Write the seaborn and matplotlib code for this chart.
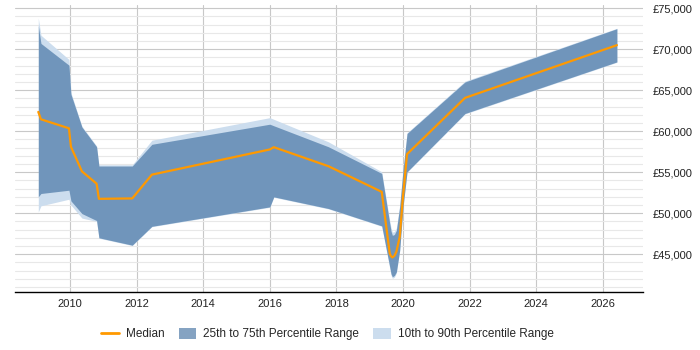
import numpy as np
import pandas as pd
import matplotlib
matplotlib.use('Agg')
import matplotlib.pyplot as plt
import matplotlib.ticker as mticker
from matplotlib.patches import Patch
from matplotlib.lines import Line2D
import seaborn as sns

# values (decimal years, GBP)
years = [2009.05, 2009.13, 2009.97, 2010.03, 2010.36, 2010.8, 2010.87, 2011.87,
         2012.46, 2016.0, 2016.12, 2017.76, 2019.36, 2019.6, 2019.64, 2019.68,
         2019.74, 2019.8, 2019.9, 2020.0, 2020.12, 2021.86, 2026.42]
median = [62350, 61450, 60350, 58100, 55100, 53600, 51750, 51800,
          54700, 57770, 58050, 55730, 52600, 45100, 44750, 44600,
          44800, 45300, 47100, 52100, 57200, 64060, 70490]
p75 = [72900, 70700, 68050, 64500, 60500, 58100, 55750, 55750,
       58400, 60850, 60660, 58100, 54850, 48750, 47800, 47300,
       47400, 47900, 50800, 55300, 59720, 66000, 72500]
p90 = [73800, 71700, 68750, 64700, 60600, 58200, 55900, 55900,
       58900, 61650, 61450, 58700, 55050, 49100, 48200, 47700,
       47750, 48200, 51000, 55400, 59800, 66100, 72550]
p25 = [52000, 52400, 52800, 51500, 49950, 49100, 47000, 46100,
       48400, 50770, 51990, 50570, 48450, 43450, 42600, 42250,
       42400, 42850, 45500, 50800, 55040, 62160, 68450]
p10 = [50150, 50900, 51700, 51000, 49400, 49000, 46950, 46050,
       48350, 50720, 51940, 50520, 48400, 43300, 42450, 42050,
       42200, 42700, 45400, 50700, 54990, 62100, 68400]

df = pd.DataFrame({'year': years, 'median': median,
                   'p10': p10, 'p25': p25, 'p75': p75, 'p90': p90})

sns.set_style('white')
plt.rcParams['font.family'] = ['Liberation Sans', 'DejaVu Sans']

light = '#ccddee'
dark = (51/255, 102/255, 153/255, 0.6)
orange = '#ff9900'

fig = plt.figure(figsize=(7, 3.5), dpi=100)
ax = fig.add_axes([0.0214, 0.166, 0.897, 0.82])

ax.fill_between(df['year'], df['p10'], df['p90'], color=light, lw=0, zorder=2)
ax.fill_between(df['year'], df['p25'], df['p75'], color=dark, lw=0, zorder=3)
sns.lineplot(data=df, x='year', y='median', color=orange, lw=1.6, ax=ax, zorder=4)

ax.set_xlim(2008.35, 2027.2)
ax.set_ylim(40400, 75400)
ax.xaxis.set_major_locator(mticker.MultipleLocator(2))
ax.xaxis.set_major_formatter(mticker.FuncFormatter(lambda v, p: f'{int(v)}'))
ax.yaxis.set_major_locator(mticker.MultipleLocator(5000))
ax.yaxis.set_minor_locator(mticker.MultipleLocator(1000))
ax.yaxis.set_major_formatter(mticker.FuncFormatter(lambda v, p: f'£{int(v):,}'))
ax.yaxis.tick_right()
ax.set_xlabel('')
ax.set_ylabel('')

ax.grid(True, which='major', axis='both', color='#c8c8c8', lw=0.8, zorder=0)
ax.grid(True, which='minor', axis='y', color='#e8e8e8', lw=0.8, zorder=0)
ax.set_axisbelow(True)
ax.tick_params(axis='both', which='both', length=0, labelsize=8, colors='#222222')
ax.tick_params(axis='y', pad=7)
ax.tick_params(axis='x', pad=5)

for s in ['top', 'left', 'right']:
    ax.spines[s].set_visible(False)
ax.spines['bottom'].set_color('black')
ax.spines['bottom'].set_linewidth(1)

handles = [Line2D([0], [0], color=orange, lw=2),
           Patch(facecolor=(133/255, 163/255, 194/255), edgecolor='none'),
           Patch(facecolor=light, edgecolor='none')]
labels = ['Median', '25th to 75th Percentile Range', '10th to 90th Percentile Range']
fig.legend(handles, labels, loc='center', bbox_to_anchor=(0.468, 0.045), ncol=3,
           frameon=False, fontsize=8.5, handlelength=1.5, handleheight=1.0,
           columnspacing=1.2, handletextpad=0.6)

fig.savefig('out.png', dpi=100)
